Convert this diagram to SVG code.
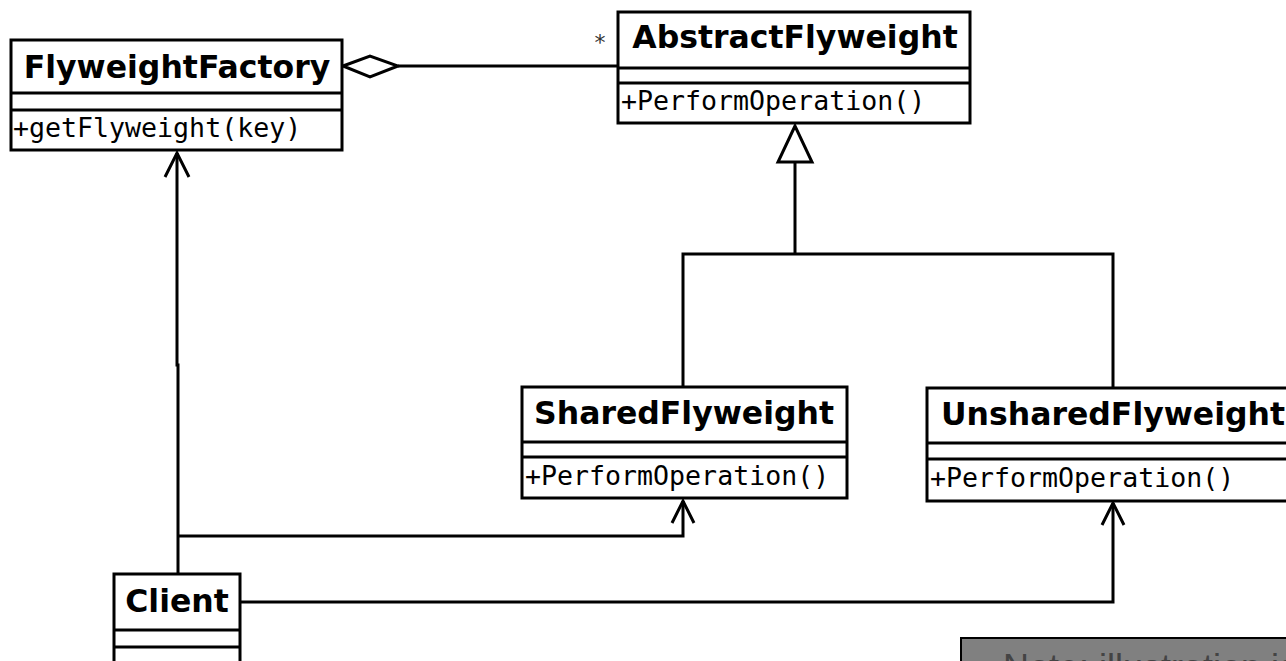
<svg xmlns="http://www.w3.org/2000/svg" width="1286" height="661" viewBox="0 0 1286 661">
<style>
.box{fill:#fff;stroke:#000;stroke-width:3}
.sep{stroke:#000;stroke-width:3}
.title{font-family:"DejaVu Sans",sans-serif;font-weight:bold;font-size:31.5px;fill:#000;text-anchor:middle}
.op{font-family:"DejaVu Sans Mono",monospace;font-size:26.6px;fill:#000}
.edge{fill:none;stroke:#000;stroke-width:3}
.head{fill:none;stroke:#000;stroke-width:3;stroke-linejoin:miter}
</style>
<rect width="1286" height="661" fill="#fff"/>
<g id="connectors">
  <line class="edge" x1="398" y1="66" x2="618" y2="66"/>
  <polygon points="343,66 370,56 398,66 370,77" fill="#fff" stroke="#000" stroke-width="3"/>
  <text x="600" y="50" font-family="DejaVu Sans,sans-serif" font-size="22" fill="#333" text-anchor="middle">*</text>
  <line class="edge" x1="795" y1="162" x2="795" y2="254"/>
  <polyline class="edge" points="683,386 683,254 1113,254 1113,388"/>
  <polygon points="795,126 778,162 812,162" fill="#fff" stroke="#000" stroke-width="3"/>
  <polyline class="edge" points="178,574 178,365 177,365 177,153"/>
  <polyline class="head" points="165,177 177,153 189,177"/>
  <polyline class="edge" points="177,536 683,536 683,501"/>
  <polyline class="head" points="672,523 683,501 694,523"/>
  <polyline class="edge" points="240,602 1113,602 1113,503"/>
  <polyline class="head" points="1102,525 1113,503 1124,525"/>
</g>
<g id="FlyweightFactory">
  <rect class="box" x="11" y="40" width="331" height="110"/>
  <line class="sep" x1="11" y1="93" x2="342" y2="93"/>
  <line class="sep" x1="11" y1="110" x2="342" y2="110"/>
  <text class="title" x="177" y="78">FlyweightFactory</text>
  <text class="op" x="13" y="137">+getFlyweight(key)</text>
</g>
<g id="AbstractFlyweight">
  <rect class="box" x="618" y="12" width="352" height="111"/>
  <line class="sep" x1="618" y1="68" x2="970" y2="68"/>
  <line class="sep" x1="618" y1="83" x2="970" y2="83"/>
  <text class="title" x="795" y="48">AbstractFlyweight</text>
  <text class="op" x="621" y="110">+PerformOperation()</text>
</g>
<g id="SharedFlyweight">
  <rect class="box" x="522" y="387" width="325" height="111"/>
  <line class="sep" x1="522" y1="442" x2="847" y2="442"/>
  <line class="sep" x1="522" y1="457" x2="847" y2="457"/>
  <text class="title" x="684" y="424">SharedFlyweight</text>
  <text class="op" x="525" y="485">+PerformOperation()</text>
</g>
<g id="UnsharedFlyweight">
  <rect class="box" x="927" y="388" width="372" height="113"/>
  <line class="sep" x1="927" y1="443" x2="1299" y2="443"/>
  <line class="sep" x1="927" y1="459" x2="1299" y2="459"/>
  <text class="title" x="1113" y="425">UnsharedFlyweight</text>
  <text class="op" x="930" y="487">+PerformOperation()</text>
</g>
<g id="Client">
  <rect class="box" x="114" y="574" width="126" height="100"/>
  <line class="sep" x1="114" y1="630" x2="240" y2="630"/>
  <line class="sep" x1="114" y1="647" x2="240" y2="647"/>
  <text class="title" x="177" y="612">Client</text>
</g>
<g id="Note">
  <rect x="961" y="638" width="340" height="60" fill="#808080" stroke="#000" stroke-width="2"/>
  <text x="1003" y="680" font-family="Liberation Sans,Arial,sans-serif" font-size="36" fill="#444">Note: illustration is</text>
</g>
</svg>
